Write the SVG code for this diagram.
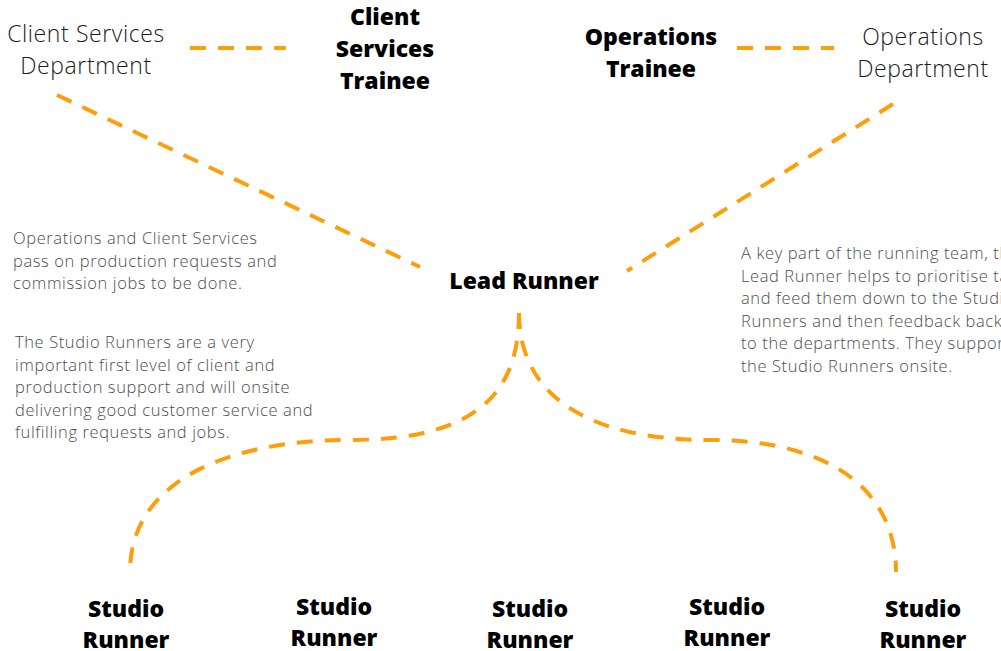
<svg xmlns="http://www.w3.org/2000/svg" width="1001" height="651" viewBox="0 0 1001 651">
<style>
.dash{fill:none;stroke:#FF9E0B;stroke-width:4;stroke-dasharray:16 12}
.dept{font-family:"Open Sans","Liberation Sans",sans-serif;font-weight:300;font-size:23px;letter-spacing:0.6px;fill:#1a1a1a;text-anchor:middle}
.bold{font-family:"Open Sans","Liberation Sans",sans-serif;font-weight:800;font-size:23px;fill:#000;text-anchor:middle}
.desc{font-family:"Open Sans","Liberation Sans",sans-serif;font-weight:300;font-size:16.5px;letter-spacing:0.6px;fill:#4d4d4d}
</style>
<rect width="1001" height="651" fill="#fff"/>
<g id="connectors">
<line class="dash" x1="190" y1="48" x2="286" y2="48"/>
<line class="dash" x1="737" y1="48" x2="834" y2="48"/>
<line class="dash" x1="57" y1="95" x2="420" y2="267"/>
<line class="dash" x1="893" y1="104" x2="627" y2="271"/>
<path class="dash" d="M519,313 C519,390 480,440 350,440 C230,440 130,480 130,572"/>
<path class="dash" d="M519,313 C519,390 580,440 710,440 C830,440 896,490 896,572"/>
</g>
<g id="client-services-dept"><text class="dept" x="86" y="42">Client Services</text><text class="dept" x="86" y="74">Department</text></g>
<g id="client-services-trainee"><text class="bold" x="385" y="25">Client</text><text class="bold" x="385" y="57">Services</text><text class="bold" x="385" y="89">Trainee</text></g>
<g id="operations-trainee"><text class="bold" x="651" y="45">Operations</text><text class="bold" x="651" y="77">Trainee</text></g>
<g id="operations-dept"><text class="dept" x="923" y="45">Operations</text><text class="dept" x="923" y="77">Department</text></g>
<g id="lead-runner"><text class="bold" x="524" y="289">Lead Runner</text></g>
<g id="note-1"><text class="desc" x="13" y="244">Operations and Client Services</text><text class="desc" x="13" y="266.5">pass on production requests and</text><text class="desc" x="13" y="289">commission jobs to be done.</text></g>
<g id="note-2"><text class="desc" x="15" y="348">The Studio Runners are a very</text><text class="desc" x="15" y="370.5">important first level of client and</text><text class="desc" x="15" y="393">production support and will onsite</text><text class="desc" x="15" y="415.5">delivering good customer service and</text><text class="desc" x="15" y="438">fulfilling requests and jobs.</text></g>
<g id="note-3"><text class="desc" x="741" y="259">A key part of the running team, the</text><text class="desc" x="741" y="281.5">Lead Runner helps to prioritise tasks</text><text class="desc" x="741" y="304">and feed them down to the Studio</text><text class="desc" x="741" y="326.5">Runners and then feedback back</text><text class="desc" x="741" y="349">to the departments. They support</text><text class="desc" x="741" y="371.5">the Studio Runners onsite.</text></g>
<g id="studio-runner-1"><text class="bold" x="126" y="617">Studio</text><text class="bold" x="126" y="648">Runner</text></g>
<g id="studio-runner-2"><text class="bold" x="334" y="615">Studio</text><text class="bold" x="334" y="646">Runner</text></g>
<g id="studio-runner-3"><text class="bold" x="530" y="617">Studio</text><text class="bold" x="530" y="648">Runner</text></g>
<g id="studio-runner-4"><text class="bold" x="727" y="615">Studio</text><text class="bold" x="727" y="646">Runner</text></g>
<g id="studio-runner-5"><text class="bold" x="923" y="617">Studio</text><text class="bold" x="923" y="648">Runner</text></g>
</svg>
